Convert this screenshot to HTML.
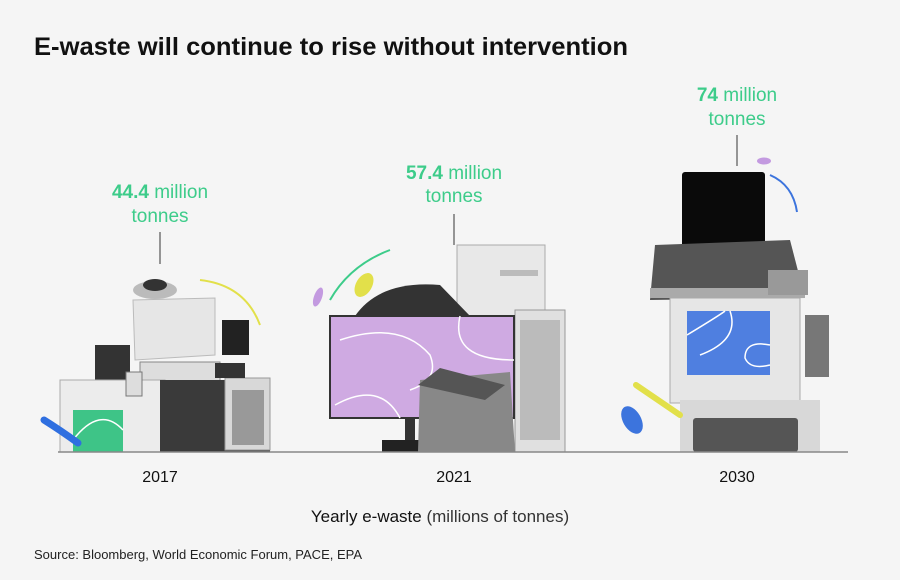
<!DOCTYPE html>
<html><head><style>
body{margin:0;background:#f5f5f5;}
svg{display:block;font-family:"Liberation Sans",sans-serif;}
</style></head><body>
<svg width="900" height="580" viewBox="0 0 900 580">
<rect width="900" height="580" fill="#f5f5f5"/>
<text x="34" y="55" font-size="25" font-weight="bold" fill="#111" textLength="594" lengthAdjust="spacingAndGlyphs">E-waste will continue to rise without intervention</text>

<!-- labels -->
<g font-size="19" fill="#3dcc8a" text-anchor="middle">
<text x="160" y="198"><tspan font-weight="bold">44.4</tspan> million</text>
<text x="160" y="222">tonnes</text>
<text x="454" y="179"><tspan font-weight="bold">57.4</tspan> million</text>
<text x="454" y="202">tonnes</text>
<text x="737" y="101"><tspan font-weight="bold">74</tspan> million</text>
<text x="737" y="125">tonnes</text>
</g>
<g stroke="#555" stroke-width="1.2">
<line x1="160" y1="232" x2="160" y2="264"/>
<line x1="454" y1="214" x2="454" y2="245"/>
<line x1="737" y1="135" x2="737" y2="166"/>
</g>

<!-- 2017 pile -->
<g>
<path d="M133 300 L215 298 L215 355 L135 360Z" fill="#e6e6e6" stroke="#bbb"/>
<ellipse cx="155" cy="290" rx="22" ry="9" fill="#bbb"/>
<ellipse cx="155" cy="285" rx="12" ry="6" fill="#333"/>
<rect x="222" y="320" width="27" height="35" fill="#222"/>
<rect x="95" y="345" width="35" height="60" fill="#333"/>
<rect x="140" y="362" width="80" height="22" fill="#ddd" stroke="#888"/>
<rect x="60" y="380" width="105" height="72" fill="#ececec" stroke="#aaa"/>
<rect x="160" y="380" width="110" height="72" fill="#3a3a3a"/>
<rect x="225" y="378" width="45" height="72" fill="#d8d8d8" stroke="#999"/>
<rect x="232" y="390" width="32" height="55" fill="#999"/>
<rect x="73" y="410" width="50" height="42" fill="#3ec487"/>
<path d="M73 440 Q100 405 123 430" stroke="#fff" stroke-width="1.5" fill="none"/>
<rect x="126" y="372" width="16" height="24" fill="#ddd" stroke="#777"/>
<rect x="215" y="363" width="30" height="15" fill="#333"/>
<path d="M200 280 Q245 285 260 325" stroke="#e2e04a" stroke-width="2" fill="none"/>
<path d="M44 420 Q60 430 78 443" stroke="#2f6fe0" stroke-width="7" stroke-linecap="round" fill="none"/>
</g>

<!-- 2021 pile -->
<g>
<rect x="457" y="245" width="88" height="80" fill="#e8e8e8" stroke="#aaa"/>
<rect x="500" y="270" width="38" height="6" fill="#bbb"/>
<path d="M355 316 Q380 280 440 285 L470 316Z" fill="#333"/>
<path d="M330 300 Q350 265 390 250" stroke="#3dcc8a" stroke-width="2" fill="none"/>
<ellipse cx="364" cy="285" rx="8" ry="13" transform="rotate(30 364 285)" fill="#e2e04a"/>
<ellipse cx="318" cy="297" rx="4" ry="10" transform="rotate(20 318 297)" fill="#c39ae0"/>
<rect x="515" y="310" width="50" height="142" fill="#e0e0e0" stroke="#999"/>
<g fill="#bbb"><rect x="520" y="320" width="40" height="120"/></g>
<rect x="330" y="316" width="184" height="102" fill="#cfaae2" stroke="#333" stroke-width="2"/>
<path d="M335 405 Q380 380 400 418 M340 340 Q400 320 430 355 Q440 380 410 390 M460 316 Q450 360 514 360" stroke="#fff" stroke-width="1.5" fill="none"/>
<rect x="405" y="418" width="10" height="25" fill="#333"/>
<rect x="382" y="440" width="40" height="12" fill="#222"/>
<path d="M420 380 L510 372 L515 452 L418 452Z" fill="#888"/>
<path d="M418 385 L440 368 L505 385 L485 400Z" fill="#555"/>
</g>

<!-- 2030 pile -->
<g>
<rect x="682" y="172" width="83" height="78" rx="3" fill="#0a0a0a"/>
<path d="M655 245 L790 240 L805 298 L650 300Z" fill="#555"/>
<rect x="650" y="288" width="155" height="10" fill="#aaa"/>
<rect x="768" y="270" width="40" height="25" fill="#999"/>
<rect x="670" y="298" width="130" height="105" fill="#e6e6e6" stroke="#aaa"/>
<rect x="687" y="311" width="83" height="64" fill="#4f7fe0"/>
<path d="M687 335 Q720 315 725 311 M730 311 Q740 340 700 355 M770 345 Q745 340 745 358 Q750 370 770 365" stroke="#fff" stroke-width="1.5" fill="none"/>
<rect x="805" y="315" width="24" height="62" fill="#777"/>
<rect x="680" y="400" width="140" height="52" fill="#d8d8d8"/>
<rect x="693" y="418" width="105" height="34" rx="3" fill="#555"/>
<path d="M636 385 L680 415" stroke="#e2e04a" stroke-width="6" stroke-linecap="round"/>
<ellipse cx="632" cy="420" rx="9" ry="15" transform="rotate(-30 632 420)" fill="#3c74dd"/>
<path d="M770 175 Q793 185 797 212" stroke="#3c74dd" stroke-width="2" fill="none"/>
<ellipse cx="764" cy="161" rx="7" ry="3.5" fill="#c39ae0"/>
</g>

<line x1="58" y1="452" x2="848" y2="452" stroke="#888" stroke-width="1.5"/>
<g font-size="16" fill="#111" text-anchor="middle">
<text x="160" y="482">2017</text>
<text x="454" y="482">2021</text>
<text x="737" y="482">2030</text>
</g>
<text x="440" y="522" font-size="17" fill="#111" text-anchor="middle">Yearly e-waste<tspan fill="#333"> (millions of tonnes)</tspan></text>
<text x="34" y="559" font-size="13" fill="#222">Source: Bloomberg, World Economic Forum, PACE, EPA</text>
</svg>
</body></html>
